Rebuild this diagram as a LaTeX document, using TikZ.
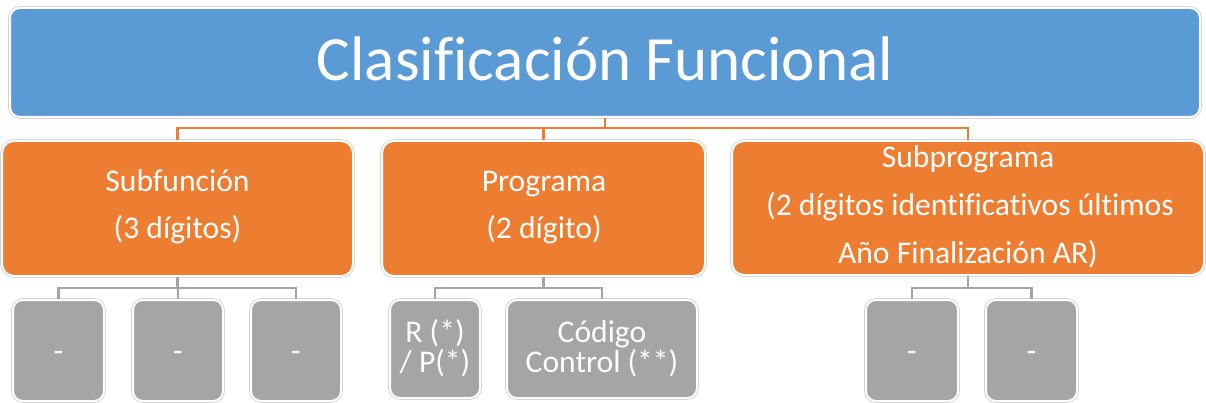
\documentclass[tikz,border=0pt]{standalone}
\usepackage{fontspec}
\setmainfont{Carlito}[Ligatures=NoCommon]
\definecolor{tblue}{HTML}{5B9BD5}
\definecolor{torange}{HTML}{ED7D31}
\definecolor{tgray}{HTML}{A5A5A5}
\begin{document}
\begin{tikzpicture}[x=1pt,y=-1pt,
  sbox/.style={rectangle, rounded corners=#1, draw=white, line width=2pt,
    preaction={draw=black!18, line width=3.6pt}, inner sep=0pt},
  topbox/.style={sbox=10pt, fill=tblue},
  obox/.style={sbox=12pt, fill=torange},
  gbox/.style={sbox=10pt, fill=tgray},
  txt/.style={text=white, inner sep=0pt, anchor=base},
  big/.style={txt, font=\fontsize{63}{63}\selectfont},
  mid/.style={txt, font=\fontsize{31.6}{31.6}\selectfont},
  oline/.style={draw=torange, line width=2.3pt},
  gline/.style={draw=tgray, line width=2.3pt}
]
\useasboundingbox (0,0) rectangle (1206,403);

% top box
\node[topbox, minimum width=1190pt, minimum height=109pt] (ttl) at (605,62.5) {};
\node[big] (ttltxt) at (605,81) {Clasificación Funcional};

% orange level
\node[obox, minimum width=351pt, minimum height=135pt] (sf) at (177.5,208.5) {};
\node[obox, minimum width=323pt, minimum height=135pt] (pg) at (543.5,208.5) {};
\node[obox, minimum width=472pt, minimum height=134pt] (sp) at (968,208) {};

\node[mid] (sf1) at (177.5,192) {Subfunción};
\node[mid] (sf2) at (177.5,239) {(3 dígitos)};
\node[mid] (pg1) at (544,192) {Programa};
\node[mid] (pg2) at (544,239) {(2 dígito)};
\node[mid] (sp1) at (968,168) {Subprograma};
\node[mid] (sp2) at (970,216) {(2 dígitos identificativos últimos};
\node[mid] (sp3) at (968,263) {Año Finalización AR)};

% gray level
\node[gbox, minimum width=91pt, minimum height=101pt] (d1) at (58.5,350.5) {};
\node[gbox, minimum width=90pt, minimum height=101pt] (d2) at (178,350.5) {};
\node[gbox, minimum width=90pt, minimum height=101pt] (d3) at (296,350.5) {};
\node[gbox, minimum width=90pt, minimum height=98pt] (rp) at (435,349) {};
\node[gbox, minimum width=190pt, minimum height=98pt] (cc) at (602,349) {};
\node[gbox, minimum width=92pt, minimum height=101pt] (d4) at (912,350.5) {};
\node[gbox, minimum width=91pt, minimum height=101pt] (d5) at (1031.5,350.5) {};

\node[mid] (d1t) at (58.5,361) {-};
\node[mid] (d2t) at (178,361) {-};
\node[mid] (d3t) at (296,361) {-};
\node[mid] (d4t) at (912,361) {-};
\node[mid] (d5t) at (1031.5,361) {-};
\node[mid] (rp1) at (435,342) {R (*)};
\node[mid] (rp2) at (435,372) {/ P(*)};
\node[mid] (cc1) at (602,342) {Código};
\node[mid] (cc2) at (602,372) {Control (**)};

% connectors
\coordinate (busA) at (0,128);
\coordinate (busB) at (0,288);
\draw[oline] (ttl.south) -- (ttl.south |- busA) -| (sf.north);
\draw[oline] (ttl.south) -- (ttl.south |- busA) -| (pg.north);
\draw[oline] (ttl.south) -- (ttl.south |- busA) -| (sp.north);

\draw[gline] (sf.south) -- (sf.south |- busB) -| (d1.north);
\draw[gline] (sf.south) -- (sf.south |- busB) -| (d2.north);
\draw[gline] (sf.south) -- (sf.south |- busB) -| (d3.north);
\draw[gline] (pg.south) -- (pg.south |- busB) -| (rp.north);
\draw[gline] (pg.south) -- (pg.south |- busB) -| (cc.north);
\draw[gline] (sp.south) -- (sp.south |- busB) -| (d4.north);
\draw[gline] (sp.south) -- (sp.south |- busB) -| (d5.north);
\end{tikzpicture}
\end{document}
